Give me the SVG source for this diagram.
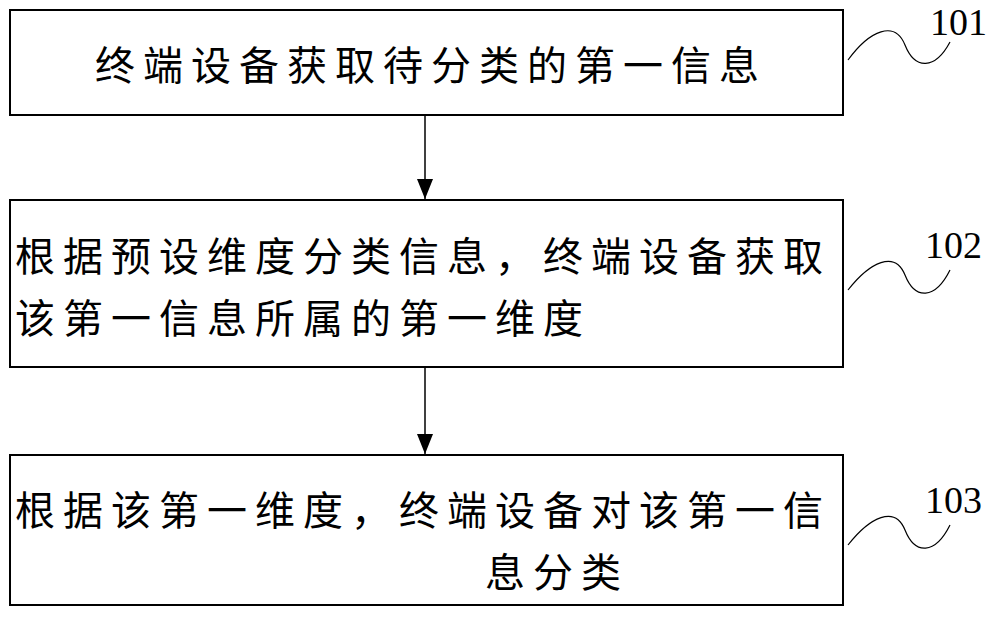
<svg xmlns="http://www.w3.org/2000/svg" width="1000" height="630" viewBox="0 0 1000 630">
<defs>
<style>
.box{fill:#fff;stroke:#000;stroke-width:2}
.t{font-family:"Liberation Serif","Noto Sans CJK SC",serif;font-size:40px;letter-spacing:8px;fill:#000}
.n{font-family:"Liberation Serif",serif;font-size:38px;fill:#000}
.w{fill:none;stroke:#000;stroke-width:1.2}
.c{stroke:#000;stroke-width:1.5}
</style>
<marker id="a" markerWidth="20" markerHeight="16" refX="20" refY="8" orient="auto" markerUnits="userSpaceOnUse" viewBox="0 0 20 16"><path d="M0,0 L20,8 L0,16 Z" fill="#000"/></marker>
</defs>
<g id="n1"><rect class="box" x="10" y="10" width="833" height="105"/><text class="t" x="95" y="80">终端设备获取待分类的第一信息</text></g>
<g id="n2"><rect class="box" x="10" y="200" width="833" height="167"/><text class="t" x="15" y="271">根据预设维度分类信息，终端设备获取</text><text class="t" x="15" y="333">该第一信息所属的第一维度</text></g>
<g id="n3"><rect class="box" x="10" y="455" width="833" height="150"/><text class="t" x="15" y="525">根据该第一维度，终端设备对该第一信</text><text class="t" x="485" y="587">息分类</text></g>
<g id="connectors">
<line class="c" x1="425" y1="115" x2="425" y2="199" marker-end="url(#a)"/>
<line class="c" x1="425" y1="367" x2="425" y2="454" marker-end="url(#a)"/>
</g>
<g id="labels">
<path class="w" d="M848,60 C870,30 895,20 905,45 C915,70 935,70 950,42"/>
<text class="n" x="930" y="35">101</text>
<path class="w" d="M848,290 C870,262 895,250 905,275 C915,300 935,300 950,270"/>
<text class="n" x="925" y="258">102</text>
<path class="w" d="M848,545 C870,517 895,505 905,530 C915,555 935,555 950,525"/>
<text class="n" x="925" y="513">103</text>
</g>
</svg>
